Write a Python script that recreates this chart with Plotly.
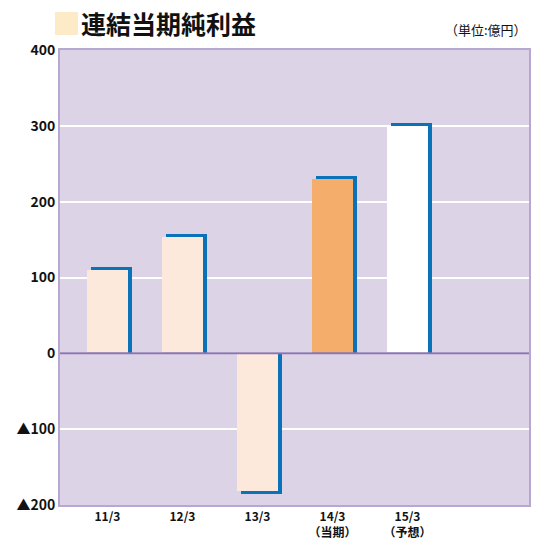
import plotly.graph_objects as go

categories = ["11/3", "12/3", "13/3", "14/3<br>（当期）", "15/3<br>（予想）"]
values = [110, 153, -182, 230, 300]
bar_colors = ["#fde8dc", "#fde8dc", "#fde8dc", "#f4ad6a", "#ffffff"]
y_tickvals = [-200, -100, 0, 100, 200, 300, 400]
y_ticktext = ["▲200", "▲100", "0", "100", "200", "300", "400"]

FONT = "Noto Sans CJK JP"
BLUE = "#0a72b8"

xpos = list(range(len(categories)))
bar_w = 0.547
dx = 0.053
dy = 4

shadow_y = [v + dy if v >= 0 else v - dy for v in values]

fig = go.Figure()
fig.add_trace(go.Bar(
    x=[p + dx for p in xpos], y=shadow_y, width=bar_w,
    marker=dict(color=BLUE, line=dict(width=0)), hoverinfo="skip", showlegend=False,
))
fig.add_trace(go.Bar(
    x=xpos, y=values, width=bar_w,
    marker=dict(color=bar_colors, line=dict(width=0)), showlegend=False,
))

fig.update_layout(
    width=534, height=540,
    margin=dict(l=60, r=5, t=50, b=35, autoexpand=False),
    paper_bgcolor="white",
    plot_bgcolor="#dcd3e6",
    barmode="overlay",
    bargap=0,
    font=dict(family=FONT, color="#111111"),
    xaxis=dict(
        range=[-0.633, 5.62], tickmode="array", tickvals=xpos, ticktext=categories,
        showgrid=False, zeroline=False, showline=True, mirror=True, automargin=False,
        linecolor="#b6a8d2", linewidth=2, ticks="", ticklen=0, ticklabelstandoff=0,
        tickfont=dict(family=FONT, size=12, color="#111111", weight="bold"),
    ),
    yaxis=dict(
        range=[-200, 400], tickmode="array", tickvals=y_tickvals, ticktext=y_ticktext,
        showgrid=True, gridcolor="white", gridwidth=2, zeroline=False, automargin=False,
        showline=True, mirror=True, linecolor="#b6a8d2", linewidth=2,
        ticks="", ticklen=0,
        tickfont=dict(family=FONT, size=14, color="#111111", weight="bold"),
    ),
    shapes=[
        dict(type="line", xref="paper", yref="y", x0=0, x1=1, y0=0, y1=0,
             line=dict(color="#8a76b2", width=2), layer="above"),
        dict(type="rect", xref="paper", yref="paper", x0=-0.0107, x1=0.0384,
             y0=1.033, y1=1.0835, fillcolor="#fdebc8", line=dict(width=0)),
    ],
    annotations=[
        dict(text="<b>連結当期純利益</b>", xref="paper", yref="paper", x=0.040, y=1.059,
             xanchor="left", yanchor="middle", showarrow=False,
             font=dict(family=FONT, size=25, color="#111111")),
        dict(text="（単位:億円）", xref="paper", yref="paper", x=1.0, y=1.044,
             xanchor="right", yanchor="middle", showarrow=False,
             font=dict(family=FONT, size=13, color="#111111")),
    ],
)

fig.write_html("out.html")
